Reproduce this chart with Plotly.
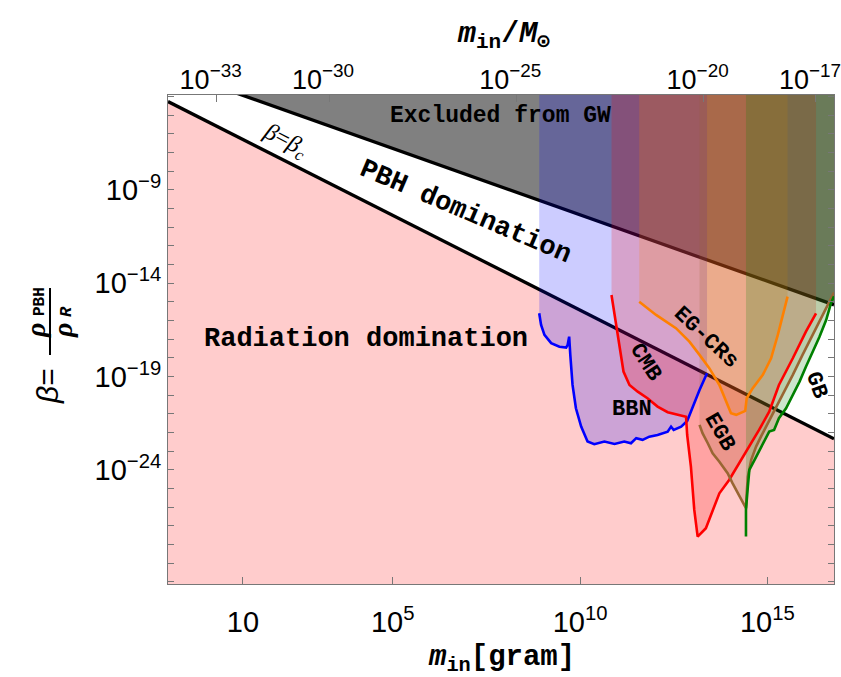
import plotly.graph_objects as go

M_SUN_G = 1.989e33  # solar mass in grams

# ---- axis limits (log10 units) ----
logm_range = [-1.0, 16.78]
logb_range = [-30.11, -3.92]

# ---- boundary lines (log10 m [g], log10 beta) ----
betac_logm = [-1.0, 16.78]
betac_logb = [-4.27, -22.33]
gw_logm = [-1.0, 16.78]
gw_logb = [-2.52, -15.16]

# ---- observational constraints (log10 m [g], log10 beta) ----
bbn_logm = [8.91, 8.96, 9.05, 9.23, 9.45, 9.63, 9.67, 9.71, 9.74, 9.80, 9.89, 10.03,
            10.20, 10.38, 10.65, 10.92, 11.18, 11.36, 11.50, 11.67, 11.85, 12.07,
            12.34, 12.43, 12.50, 12.70, 12.86, 13.01, 13.19, 13.39]
bbn_logb = [-15.61, -16.23, -16.77, -17.21, -17.40, -17.45, -17.30, -16.86, -17.84,
            -19.45, -20.70, -21.68, -22.48, -22.62, -22.48, -22.61, -22.48, -22.57,
            -22.30, -22.39, -22.22, -22.13, -21.95, -21.68, -21.86, -21.68, -21.38,
            -20.61, -19.72, -18.82]

cmb_logm = [10.84, 10.92, 10.99, 11.08, 11.16, 11.32, 11.54, 11.80, 12.07, 12.34,
            12.61, 12.83, 12.86, 12.96, 13.05, 13.14, 13.36, 13.54, 13.72, 13.98,
            14.25, 14.52, 14.78, 15.05, 15.31, 15.68, 16.03, 16.30]
cmb_logb = [-14.63, -15.70, -16.59, -17.66, -18.73, -19.45, -19.81, -20.16, -20.61,
            -20.91, -21.05, -21.15, -22.13, -23.82, -26.14, -27.57, -27.12, -26.14,
            -25.25, -24.54, -23.64, -22.75, -21.86, -20.88, -19.45, -18.02, -16.59,
            -15.61]

egcr_logm = [11.58, 12.03, 12.56, 12.92, 13.19, 13.45, 13.72, 13.90, 14.03, 14.17,
             14.41, 14.45, 14.61, 14.88, 15.10, 15.28, 15.41, 15.54]
egcr_logb = [-14.99, -15.70, -16.41, -17.13, -17.84, -18.55, -19.45, -20.34, -20.96,
             -21.05, -20.84, -20.16, -19.62, -18.91, -18.02, -16.77, -15.70, -14.72]

egb_logm = [13.19, 13.27, 13.41, 13.54, 13.72, 13.94, 14.07, 14.21, 14.34, 14.43,
            14.45, 14.48, 14.57, 14.70, 14.83, 14.97, 15.14, 15.41, 15.68, 15.94,
            16.21, 16.48, 16.78]
egb_logb = [-21.59, -22.03, -22.57, -23.11, -23.56, -24.18, -24.71, -25.25, -25.78,
            -26.05, -25.25, -24.36, -23.46, -22.75, -22.22, -21.68, -21.05, -19.98,
            -18.91, -17.84, -16.77, -15.70, -14.50]

gb_logm = [14.43, 14.43, 14.48, 14.52, 14.66, 14.79, 14.92, 15.05, 15.18, 15.31,
           15.50, 15.68, 15.86, 16.03, 16.21, 16.39, 16.57, 16.70, 16.78]
gb_logb = [-27.57, -26.14, -24.89, -24.00, -23.46, -22.93, -22.39, -21.95, -21.86,
           -21.23, -20.70, -19.98, -19.27, -18.47, -17.66, -16.88, -15.97, -15.07,
           -14.70]

# ---- tick labels ----
bottom_tick_logm = [1, 5, 10, 15]
bottom_tick_text = ["10", "10<sup>5</sup>", "10<sup>10</sup>", "10<sup>15</sup>"]
top_tick_logmsun = [-33, -30, -25, -20, -17]
top_tick_text = ["10<sup>\u221233</sup>", "10<sup>\u221230</sup>", "10<sup>\u221225</sup>",
                 "10<sup>\u221220</sup>", "10<sup>\u221217</sup>"]
left_tick_logb = [-9, -14, -19, -24]
left_tick_text = ["10<sup>\u22129</sup>", "10<sup>\u221214</sup>",
                  "10<sup>\u221219</sup>", "10<sup>\u221224</sup>"]
left_minor_logb = [k for k in range(-30, -3) if k not in left_tick_logb]

CEIL = 0.0     # log10 beta above the frame
FLOOR = -40.0  # log10 beta below the frame


def pw(vals):
    return [10.0 ** v for v in vals]


MONO = "Liberation Mono, Courier New, monospace"
SANS = "Liberation Sans, Arial, sans-serif"
NARROW = "Liberation Sans Narrow, Arial Narrow, Liberation Sans, sans-serif"
SERIF = "Liberation Serif, Times New Roman, serif"

fig = go.Figure()


def poly(xs, ys, color):
    fig.add_trace(go.Scatter(x=pw(xs), y=pw(ys), mode="lines", fill="toself",
                             fillcolor=color, line=dict(width=0),
                             hoverinfo="skip", showlegend=False))


# radiation domination: below beta = beta_c
poly(betac_logm + betac_logm[::-1], betac_logb + [FLOOR, FLOOR], "rgba(255,0,0,0.2)")
# excluded from gravitational waves
poly(gw_logm + gw_logm[::-1], gw_logb + [CEIL, CEIL], "#808080")

# boundary lines
for lm, lb in [(betac_logm, betac_logb), (gw_logm, gw_logb)]:
    fig.add_trace(go.Scatter(x=pw(lm), y=pw(lb), mode="lines",
                             line=dict(color="black", width=3.3),
                             hoverinfo="skip", showlegend=False))

constraints = [
    (bbn_logm, bbn_logb, (0, 0, 255)),
    (cmb_logm, cmb_logb, (255, 0, 0)),
    (egcr_logm, egcr_logb, (255, 128, 0)),
    (egb_logm, egb_logb, (153, 102, 51)),
    (gb_logm, gb_logb, (0, 128, 0)),
]

# excluded regions above each constraint curve
for lm, lb, (r, g, b) in constraints:
    poly(lm + [lm[-1], lm[0]], lb + [CEIL, CEIL], f"rgba({r},{g},{b},0.2)")

# the constraint curves themselves
for lm, lb, (r, g, b) in constraints:
    fig.add_trace(go.Scatter(x=pw(lm), y=pw(lb), mode="lines",
                             line=dict(color=f"rgb({r},{g},{b})", width=2.6),
                             hoverinfo="skip", showlegend=False))

# dummy trace so the solar-mass axis on top is built
fig.add_trace(go.Scatter(x=[1.0], y=[1e-10], xaxis="x2", mode="markers",
                         marker=dict(opacity=0), hoverinfo="skip", showlegend=False))

tickfont = dict(family=NARROW, size=29, color="black")
topfont = dict(family=NARROW, size=27, color="black")
frame = "#777777"

fig.update_layout(
    width=841, height=677,
    margin=dict(l=168, r=7, t=95, b=93, autoexpand=False),
    paper_bgcolor="white", plot_bgcolor="white",
    showlegend=False,
    xaxis=dict(type="log", range=logm_range, tickmode="array",
               tickvals=pw(bottom_tick_logm), ticktext=bottom_tick_text,
               ticks="inside", ticklen=7, tickcolor=frame, tickfont=tickfont,
               ticklabeloverflow="allow", ticklabelstandoff=12, automargin=False,
               showline=True, linecolor=frame, linewidth=1, mirror=True,
               showgrid=False, zeroline=False),
    xaxis2=dict(type="log", range=logm_range, overlaying="x", side="top", anchor="y",
                tickmode="array", tickvals=[M_SUN_G * 10.0 ** k for k in top_tick_logmsun],
                ticktext=top_tick_text, ticks="inside", ticklen=7, tickcolor=frame,
                tickfont=topfont, ticklabeloverflow="allow", ticklabelshift=-6,
                automargin=False, showline=False, showgrid=False, zeroline=False),
    yaxis=dict(type="log", range=logb_range, tickmode="array",
               tickvals=pw(left_tick_logb), ticktext=left_tick_text,
               ticks="inside", ticklen=6, tickcolor=frame, tickfont=tickfont,
               automargin=False,
               minor=dict(tickmode="array", tickvals=pw(left_minor_logb),
                          ticks="inside", ticklen=6, tickcolor=frame),
               showline=True, linecolor=frame, linewidth=1, mirror="ticks",
               showgrid=False, zeroline=False),
)

L, R, T, B = 168, 834, 95, 584


def px(x, y):
    return (x - L) / (R - L), (B - y) / (B - T)


annotations = []


def paper_text(x, y, text, size, family, angle=0):
    xp, yp = px(x, y)
    annotations.append(dict(x=xp, y=yp, xref="paper", yref="paper", text=text,
                            showarrow=False, textangle=angle, xanchor="center",
                            yanchor="middle", font=dict(family=family, size=size, color="black")))


def data_text(lm, lb, text, size, angle=0, family=MONO):
    annotations.append(dict(x=lm, y=lb, xref="x", yref="y", text=text, showarrow=False,
                            textangle=angle, xanchor="center", yanchor="middle",
                            font=dict(family=family, size=size, color="black")))


# axis titles
paper_text(503, 35, "<b><i>m</i><sub>in</sub>/<i>M</i><sub>\u2299</sub></b>", 30, MONO)
paper_text(501, 659, "<b><i>m</i><sub>in</sub>[gram]</b>", 29, MONO)

# beta = rho_PBH / rho_R, written sideways along the left edge
paper_text(47, 386, "<i>\u03b2</i>=", 30, SANS, -90)
paper_text(35, 331, "<b><i>\u03c1</i></b>", 28, SERIF, -90)
paper_text(40, 302, "<b>PBH</b>", 16, MONO, -90)
paper_text(62, 331, "<b><i>\u03c1</i></b>", 28, SERIF, -90)
paper_text(66, 312, "<b><i>R</i></b>", 17, MONO, -90)
xa, ya = px(50, 288)
xb, yb = px(50, 355)
fig.add_shape(type="line", xref="paper", yref="paper", x0=xa, y0=ya, x1=xb, y1=yb,
              line=dict(color="black", width=2))

# region labels
data_text(7.87, -5.04, "<b>Excluded from GW</b>", 23)
data_text(6.94, -10.2, "<b>PBH domination</b>", 27, 23)
data_text(2.12, -6.38, "<i>\u03b2</i>=<i>\u03b2</i><sub><i>c</i></sub>", 24, 27, SERIF)
data_text(4.29, -16.98, "<b>Radiation domination</b>", 27)
data_text(13.35, -16.93, "<b>EG-CRs</b>", 22, 43)
data_text(11.75, -18.22, "<b>CMB</b>", 22, 57)
data_text(11.40, -20.79, "<b>BBN</b>", 22)
data_text(13.72, -22.02, "<b>EGB</b>", 22, 60)
data_text(16.29, -19.45, "<b>GB</b>", 22, 70)

fig.update_layout(annotations=annotations)

fig.write_html("out.html")
